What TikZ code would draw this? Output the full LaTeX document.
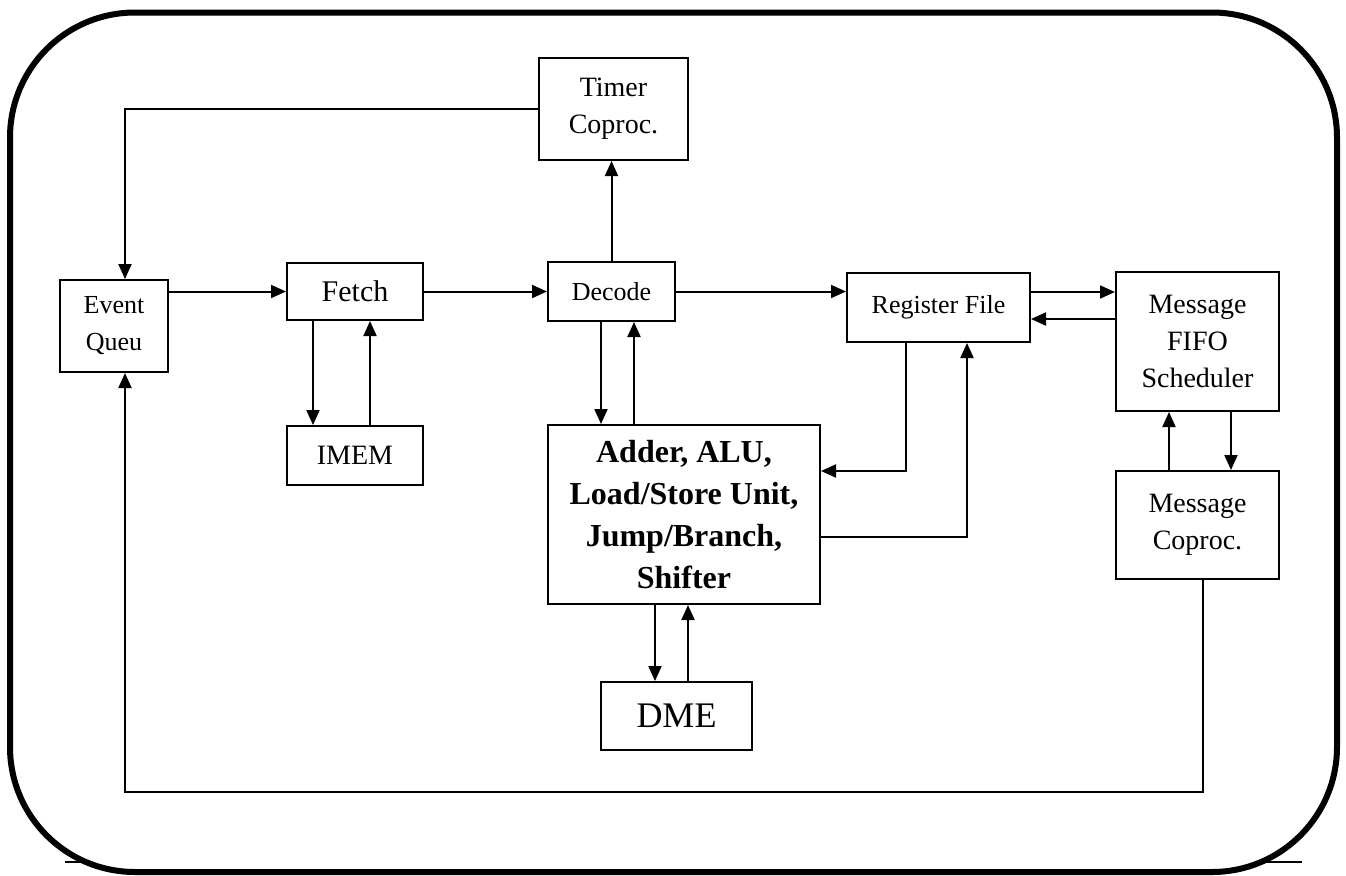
\documentclass[tikz,border=0pt]{standalone}
\usepackage{fontspec}
\setmainfont{Liberation Serif}
\usepackage{tikz}
\usetikzlibrary{
  arrows.meta,
  positioning,
  calc
}
\tikzset{
  blk/.style={
    draw, line width=1pt, inner sep=2pt, align=center,
    font=\fontsize{14}{18.5}\selectfont
  },
  smallblk/.style={blk, font=\fontsize{13}{18.5}\selectfont},
  unitblk/.style={blk, font=\fontsize{16}{21}\selectfont\bfseries},
  memblk/.style={blk, font=\fontsize{18}{22}\selectfont},
  frame/.style={draw, line width=3pt, rounded corners=62.5pt, fill=white},
  baseline/.style={line width=0.6pt},
  flow/.style={-{Triangle[length=7.5pt, width=6.5pt]}, line width=1pt}
}

\begin{document}
\begin{tikzpicture}
  \useasboundingbox (0,0) rectangle (673pt,-437.5pt);
  \coordinate (bl) at (32.5pt,-431pt);
  \coordinate (br) at (651pt,-431pt);
  \draw[baseline] (bl) -- (br);
  \draw[frame] (5pt,-6.25pt) rectangle (668.5pt,-436pt);

  \node[blk, minimum width=68pt, minimum height=28.5pt, font=\fontsize{15}{18.5}\selectfont] (fetch) at (177.5pt,-145.75pt) {Fetch};
  \node[blk, below=52pt of fetch, minimum width=68pt, minimum height=29.5pt] (imem) {IMEM};
  \node[smallblk, right=61.5pt of fetch, minimum width=63.5pt, minimum height=29.5pt] (decode) {Decode};
  \node[blk, above=50pt of decode, xshift=1pt, minimum width=74.5pt, minimum height=51pt] (timer) {Timer\\Coproc.};
  \node[smallblk, left=58.5pt of fetch, yshift=-17.25pt, minimum width=54pt, minimum height=46pt] (eq) {Event\\Queu};
  \node[unitblk, below=51pt of decode.south west, anchor=north west, minimum width=136pt, minimum height=89.5pt] (alu) {Adder, ALU,\\Load/Store Unit,\\Jump/Branch,\\Shifter};
  \node[memblk, below=38pt of alu, xshift=-3.75pt, minimum width=75.5pt, minimum height=34pt] (dme) {DME};
  \node[smallblk, right=85pt of decode, yshift=-8pt, minimum width=91.5pt, minimum height=34.5pt] (regfile) {Register File};
  \node[blk, right=42pt of regfile, yshift=-17pt, minimum width=81.5pt, minimum height=69.5pt] (fifo) {Message\\FIFO\\Scheduler};
  \node[blk, below=29pt of fifo, minimum width=81.5pt, minimum height=54pt] (mcop) {Message\\Coproc.};

  \draw[flow] (eq.east |- fetch.west) -- (fetch.west);
  \draw[flow] (fetch.east) -- (fetch.east -| decode.west);
  \draw[flow] (decode.east) -- (decode.east -| regfile.west);
  \draw[flow] ([yshift=7.75pt]regfile.east) -- ([yshift=7.75pt]regfile.east -| fifo.west);
  \draw[flow] ([yshift=11.25pt]fifo.west) -- ([yshift=11.25pt]fifo.west -| regfile.east);
  \draw[flow] (decode.north) -- (decode.north |- timer.south);
  \draw[flow] (timer.west) -| ([xshift=5.5pt]eq.north);
  \draw[flow] ([xshift=-21pt]fetch.south) -- ([xshift=-21pt]imem.north);
  \draw[flow] ([xshift=7.5pt]imem.north) -- ([xshift=7.5pt]fetch.south);
  \draw[flow] ([xshift=-5.25pt]decode.south) -- ([xshift=-5.25pt]decode.south |- alu.north);
  \draw[flow] ([xshift=11.25pt]decode.south |- alu.north) -- ([xshift=11.25pt]decode.south);
  \draw[flow] ([xshift=-16.25pt]regfile.south) |- ([yshift=21.75pt]alu.east);
  \draw[flow] ([yshift=-11.25pt]alu.east) -| ([xshift=14.25pt]regfile.south);
  \draw[flow] ([xshift=-10.75pt]dme.north |- alu.south) -- ([xshift=-10.75pt]dme.north);
  \draw[flow] ([xshift=5.75pt]dme.north) -- ([xshift=5.75pt]dme.north |- alu.south);
  \draw[flow] ([xshift=-14.25pt]mcop.north) -- ([xshift=-14.25pt]fifo.south);
  \draw[flow] ([xshift=16.75pt]fifo.south) -- ([xshift=16.75pt]mcop.north);
  \draw[flow] ([xshift=2.75pt]mcop.south) -- ++(0,-106pt) -| ([xshift=5.5pt]eq.south);
\end{tikzpicture}
\end{document}
